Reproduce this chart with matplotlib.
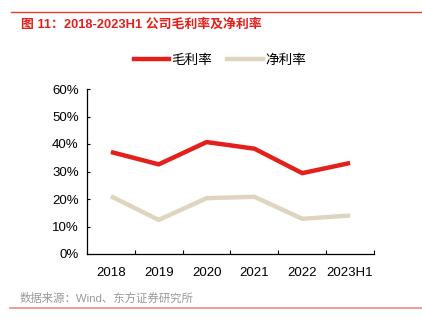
import matplotlib
matplotlib.use('Agg')
import matplotlib.pyplot as plt
from matplotlib.lines import Line2D

plt.rcParams['font.family'] = ['Liberation Sans', 'Noto Sans CJK SC', 'DejaVu Sans']

years = ['2018', '2019', '2020', '2021', '2022', '2023H1']
gross = [37.1, 32.6, 40.7, 38.3, 29.4, 33.1]
net = [21.0, 12.4, 20.3, 20.8, 12.8, 14.0]
yticks = [0, 10, 20, 30, 40, 50, 60]

red = '#E3201B'
beige = '#DDD5C0'

fig = plt.figure(figsize=(4.22, 3.24), dpi=100)
ax = fig.add_axes([87/422, 70/324, (374-87)/422, (254-89)/324])

x = list(range(len(years)))
ax.plot(x, gross, color=red, lw=3.2, solid_capstyle='butt', label='毛利率')
ax.plot(x, net, color=beige, lw=3.2, solid_capstyle='butt', label='净利率')

ax.set_xlim(-0.5, len(years) - 0.5)
ax.set_ylim(0, 60)
ax.set_yticks(yticks)
ax.set_yticklabels([f'{v}%' for v in yticks], fontsize=9.5)
ax.set_xticks(x)
ax.set_xticklabels(years, fontsize=9.5)
ax.set_xticks([i + 0.5 for i in x], minor=True)
ax.tick_params(axis='x', which='major', length=0, pad=9)
ax.tick_params(axis='x', which='minor', direction='in', length=3, width=0.8)
ax.tick_params(axis='y', direction='in', length=2, width=0.8, pad=6)
for s in ['top', 'right']:
    ax.spines[s].set_visible(False)
for s in ['left', 'bottom']:
    ax.spines[s].set_linewidth(0.9)

handles = [Line2D([], [], color=red, lw=3.2), Line2D([], [], color=beige, lw=3.2)]
fig.legend(handles, ['毛利率', '净利率'], loc='center', bbox_to_anchor=(220/422, 1 - 60/324),
           ncol=2, frameon=False, fontsize=9.8, handlelength=2.6, handletextpad=0.2,
           columnspacing=1.1)

fig.add_artist(Line2D([11/422, 1], [1 - 12/324, 1 - 12/324], color='#E8392F', lw=1.0))
fig.text(21/422, 1 - 25/324, '图 11：2018-2023H1 公司毛利率及净利率', color='#E3201B',
         fontsize=9.3, fontweight='bold', va='center', ha='left')
fig.text(20/422, 1 - 298/324, '数据来源：Wind、东方证券研究所', color='#999999',
         fontsize=8.2, va='center', ha='left')
fig.add_artist(Line2D([10/422, 1], [1 - 308/324, 1 - 308/324], color='#F08A84', lw=1.2))

fig.savefig('out.png', dpi=100)
